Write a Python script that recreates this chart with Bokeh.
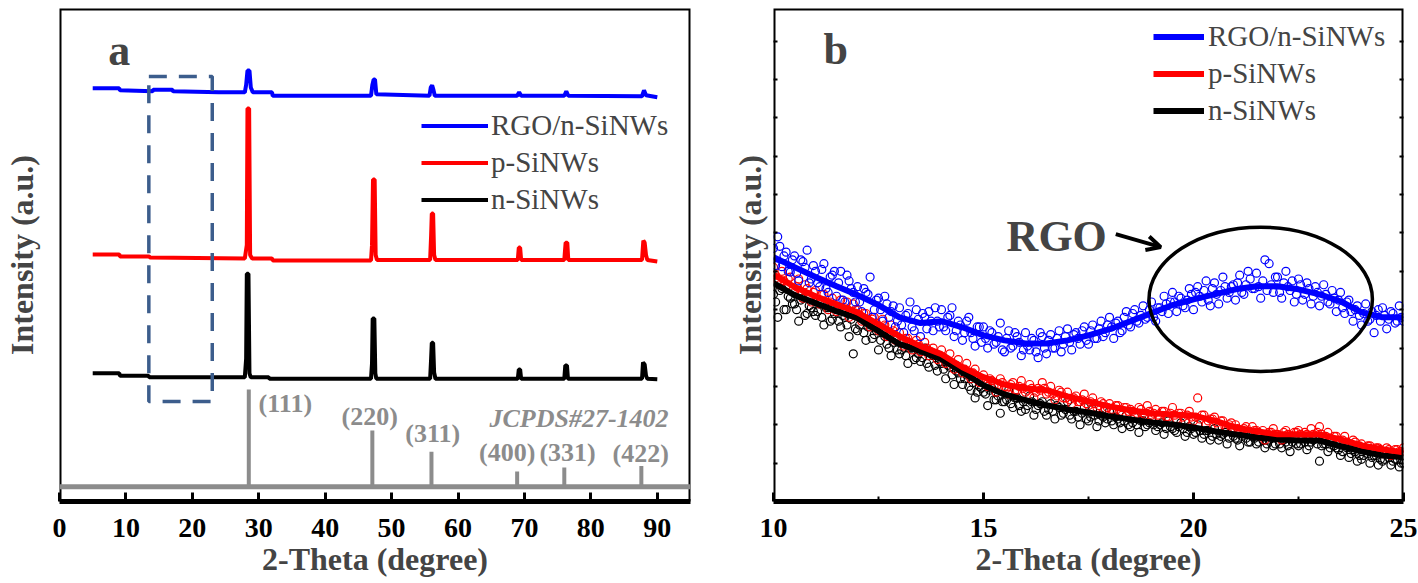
from bokeh.plotting import figure
from bokeh.layouts import row
from bokeh.models import (Range1d, FixedTicker, LinearAxis, Legend, LegendItem, Label,
                          Span, BoxAnnotation, Arrow, OpenHead, CustomLabelingPolicy)
from bokeh.embed import file_html
from bokeh.resources import INLINE

FONT = "Liberation Serif"
BLUE, RED, BLACK, GRAY, BOXC = "#0000FF", "#FF0000", "#000000", "#8C8C8C", "#3C5D8C"

# ---------------- panel a : XRD patterns (offset, a.u.) ----------------
a_blue_x = [5.0, 9.0, 9.1, 14.0, 14.1, 17.0, 17.1, 24.0, 27.9, 28.1, 28.3, 28.6, 28.8, 29.1, 32.0, 32.1,
            46.9, 47.1, 47.3, 47.5, 47.7, 55.7, 55.9, 56.1, 56.3, 56.5, 68.9, 69.2, 69.5, 76.0, 76.3, 76.6,
            87.7, 88.0, 88.3, 90.0]
a_blue_y = [838, 838, 834, 832, 835, 835, 832, 830, 830, 845, 874, 874, 840, 830, 830, 823,
            823, 845, 856, 856, 826, 823, 840, 844, 835, 823, 823, 830, 823, 823, 832, 823,
            822, 834, 824, 820]

a_red_x = [5.0, 9.0, 9.1, 13.5, 13.6, 27.9, 28.2, 28.3, 28.55, 28.7, 29.0, 32.0, 32.1,
           46.9, 47.05, 47.2, 47.45, 47.6, 47.8, 55.8, 55.95, 56.05, 56.25, 56.4, 56.6,
           69.0, 69.15, 69.35, 69.5, 76.0, 76.2, 76.45, 76.6, 87.7, 87.9, 88.1, 88.3, 88.5, 90.0]
a_red_y = [501, 501, 497, 497, 495, 493, 520, 797, 797, 500, 493, 493, 489,
           489, 520, 653, 653, 500, 490, 490, 540, 584, 584, 500, 490,
           490, 515, 515, 490, 490, 525, 525, 490, 490, 529, 525, 500, 490, 487]

a_black_x = [5.0, 9.0, 9.1, 13.4, 13.5, 27.9, 28.1, 28.2, 28.45, 28.6, 28.8, 31.5, 31.6,
             46.9, 47.05, 47.15, 47.4, 47.55, 47.7, 55.8, 55.95, 56.05, 56.25, 56.4, 56.6,
             69.0, 69.15, 69.35, 69.5, 76.0, 76.15, 76.4, 76.55, 87.7, 87.85, 88.1, 88.3, 88.5, 90.0]
a_black_y = [260, 260, 255, 255, 252, 252, 290, 462, 462, 260, 252, 252, 249,
             249, 280, 371, 371, 260, 249, 249, 290, 322, 322, 262, 249,
             249, 268, 268, 249, 249, 276, 276, 249, 249, 282, 278, 255, 249, 248]

# JCPDS#27-1402 reference pattern
ref_pos = [28.5, 47.1, 56.0, 68.9, 76.0, 87.6]
ref_int = [227, 144, 101, 61, 69, 72]
ref_base = [30, 30, 30, 30, 30, 30]
ref_labels = ["(111)", "(220)", "(311)", "(400)", "(331)", "(422)"]

# ---------------- panel b : low-angle region (scan points) ----------------
b_x = [round(10 + 0.1 * i, 1) for i in range(151)]
b_x2 = [round(10.05 + 0.1 * i, 2) for i in range(150)]
b_blue = [660, 690, 612, 650, 598, 640, 575, 625, 655, 580, 600, 560, 620, 545, 590,
          535, 600, 520, 575, 545, 560, 495, 545, 585, 500, 530, 470, 515, 495, 455,
          505, 440, 490, 455, 500, 430, 480, 495, 445, 470, 500, 445, 485, 430, 470,
          420, 470, 440, 405, 455, 455, 400, 440, 415, 465, 390, 445, 405, 430, 380,
          440, 395, 420, 375, 430, 385, 435, 400, 445, 410, 450, 395, 440, 410, 455,
          410, 460, 425, 470, 440, 480, 425, 470, 445, 495, 455, 500, 465, 510, 480,
          520, 470, 505, 535, 490, 545, 495, 530, 505, 555, 500, 560, 520, 575, 510,
          570, 515, 585, 530, 560, 525, 590, 540, 600, 555, 595, 530, 630, 620, 545,
          585, 530, 600, 550, 520, 580, 525, 570, 515, 560, 510, 565, 520, 550, 495,
          545, 490, 525, 470, 510, 460, 515, 475, 440, 500, 505, 450, 495, 465, 510, 470]
b_blue2 = [615, 665, 640, 600, 630, 595, 630, 610, 570, 615, 570, 605, 555, 585, 600,
           570, 525, 590, 555, 520, 520, 555, 540, 480, 525, 500, 535, 480, 510, 470,
           460, 485, 520, 445, 475, 490, 450, 470, 505, 455, 455, 480, 505, 445, 460,
           440, 480, 425, 455, 415, 425, 445, 410, 430, 395, 425, 400, 440, 415, 395,
           405, 425, 390, 440, 400, 420, 400, 425, 390, 430, 415, 435, 425, 445, 420,
           445, 425, 450, 430, 460, 455, 465, 440, 480, 460, 490, 470, 485, 475, 500,
           480, 505, 495, 515, 520, 520, 535, 510, 525, 540, 545, 535, 550, 525, 555,
           540, 550, 560, 545, 565, 570, 545, 565, 580, 555, 560, 575, 550, 565, 585,
           545, 570, 560, 575, 540, 565, 540, 555, 535, 545, 535, 540, 515, 530, 525,
           505, 520, 495, 500, 485, 490, 470, 495, 485, 470, 485, 475, 490, 470, 480]
b_red = [610, 575, 600, 560, 585, 545, 580, 530, 555, 520, 550, 515, 540, 500, 530,
         495, 525, 505, 480, 515, 500, 470, 490, 455, 480, 445, 475, 430, 460, 420,
         440, 405, 425, 395, 420, 390, 415, 380, 400, 370, 395, 360, 385, 345, 370,
         335, 360, 320, 345, 310, 330, 300, 315, 285, 320, 300, 280, 310, 290, 315,
         285, 305, 270, 295, 310, 280, 300, 265, 290, 270, 285, 255, 275, 260, 280,
         250, 270, 245, 260, 240, 255, 235, 250, 225, 245, 240, 220, 245, 230, 250,
         225, 240, 215, 235, 220, 245, 215, 230, 210, 235, 210, 270, 225, 200, 215,
         220, 195, 210, 185, 205, 200, 180, 190, 175, 195, 185, 170, 160, 180, 190,
         175, 160, 185, 165, 180, 185, 165, 175, 190, 170, 195, 165, 180, 160, 170,
         155, 170, 145, 160, 140, 150, 135, 145, 130, 140, 125, 140, 120, 135, 130, 140]
b_red2 = [590, 565, 575, 580, 550, 560, 540, 565, 535, 545, 525, 540, 510, 520, 505,
          505, 495, 520, 490, 500, 485, 490, 470, 475, 465, 455, 460, 440, 445, 425,
          420, 425, 410, 405, 410, 395, 400, 390, 385, 380, 375, 365, 360, 355, 345,
          345, 330, 335, 325, 320, 310, 320, 300, 305, 310, 295, 305, 290, 300, 295,
          290, 295, 285, 290, 295, 285, 280, 275, 285, 270, 265, 270, 260, 265, 255,
          260, 255, 250, 255, 245, 240, 250, 235, 245, 235, 235, 230, 240, 225, 235,
          230, 225, 235, 220, 230, 225, 230, 220, 225, 220, 220, 215, 225, 210, 215,
          205, 210, 195, 200, 190, 190, 185, 195, 180, 185, 180, 185, 175, 180, 175,
          170, 180, 175, 170, 180, 175, 180, 170, 175, 180, 175, 170, 165, 170, 160,
          160, 155, 150, 155, 145, 140, 145, 135, 140, 135, 130, 135, 125, 135, 130]
b_black = [540, 480, 555, 500, 530, 515, 470, 530, 490, 505, 485, 520, 460, 505, 475,
           500, 455, 480, 430, 385, 445, 480, 420, 460, 435, 395, 440, 410, 380, 425,
           385, 415, 360, 400, 375, 365, 400, 350, 380, 340, 360, 320, 350, 305, 335,
           305, 330, 290, 270, 300, 285, 250, 295, 265, 230, 260, 290, 245, 270, 235,
           240, 275, 225, 250, 260, 225, 255, 215, 245, 230, 260, 215, 235, 200, 245,
           210, 240, 195, 225, 205, 235, 200, 215, 190, 225, 195, 220, 180, 210, 200,
           215, 185, 200, 175, 210, 190, 180, 205, 170, 195, 175, 200, 165, 185, 160,
           190, 160, 175, 150, 180, 165, 145, 180, 155, 170, 150, 175, 140, 160, 145,
           170, 140, 155, 130, 165, 145, 165, 135, 155, 170, 105, 150, 130, 160, 140,
           120, 150, 115, 135, 105, 110, 135, 100, 120, 95, 105, 125, 95, 110, 90, 100]
b_black2 = [520, 550, 500, 535, 515, 500, 525, 485, 510, 495, 495, 480, 505, 470, 490,
            470, 485, 460, 475, 450, 460, 440, 455, 425, 445, 420, 430, 400, 415, 395,
            395, 380, 400, 370, 385, 375, 360, 385, 355, 365, 345, 355, 330, 340, 320,
            320, 300, 310, 285, 295, 280, 290, 265, 275, 260, 265, 255, 270, 250, 260,
            250, 260, 240, 255, 235, 240, 235, 250, 225, 240, 225, 235, 220, 230, 215,
            220, 225, 210, 220, 215, 210, 220, 205, 210, 200, 205, 200, 210, 195, 205,
            200, 195, 205, 190, 195, 185, 195, 190, 180, 190, 180, 185, 175, 185, 170,
            175, 170, 180, 165, 170, 160, 170, 165, 155, 165, 155, 160, 150, 165, 150,
            150, 160, 145, 155, 150, 150, 155, 145, 160, 150, 145, 150, 140, 145, 135,
            130, 140, 125, 130, 120, 120, 125, 115, 120, 110, 110, 115, 105, 110, 100]

# smoothed curves
b_line_x = [10.0, 10.5, 11.0, 11.5, 12.0, 12.5, 13.0, 13.5, 14.0, 14.5, 15.0, 15.5, 16.0, 16.5,
            17.0, 17.5, 18.0, 18.5, 19.0, 19.5, 20.0, 20.5, 21.0, 21.5, 22.0, 22.5, 23.0, 23.5,
            24.0, 24.5, 25.0]
b_line_blue = [637, 611, 585, 561, 538, 512, 480, 465, 470, 454, 433, 420, 412, 412, 420, 433,
               449, 470, 491, 512, 527, 540, 553, 561, 561, 553, 540, 522, 493, 480, 480]
b_line_red = [592, 559, 535, 514, 493, 462, 431, 405, 384, 350, 324, 305, 295, 290, 274, 261,
              248, 238, 230, 227, 224, 211, 193, 183, 175, 175, 175, 162, 146, 136, 128]
b_line_black = [569, 538, 517, 496, 478, 444, 410, 392, 371, 337, 303, 279, 264, 251, 240, 232,
                222, 214, 206, 201, 193, 183, 175, 167, 162, 159, 159, 144, 131, 120, 115]

series_names = ["RGO/n-SiNWs", "p-SiNWs", "n-SiNWs"]

NO_LABELS = "for (const i of indices) { indices.unset(i) }\nreturn indices"


def base_fig(frame_w, xr, yr, left, right):
    p = figure(frame_width=frame_w, frame_height=493, x_range=xr, y_range=yr,
               output_backend="svg", toolbar_location=None,
               min_border_left=left, min_border_right=right, min_border_top=8, min_border_bottom=80)
    p.xgrid.visible = False
    p.ygrid.visible = False
    p.outline_line_color = None
    p.background_fill_color = "white"
    p.border_fill_color = "white"
    p.add_layout(BoxAnnotation(fill_alpha=0, line_color="black", line_alpha=1, line_width=4))
    xa = p.xaxis[0]
    xa.axis_line_width = 5
    xa.major_tick_in = 9
    xa.major_tick_out = 0
    xa.major_tick_line_width = 3
    xa.minor_tick_in = 5
    xa.minor_tick_out = 0
    xa.minor_tick_line_width = 2
    xa.major_label_text_font = FONT
    xa.major_label_text_font_style = "bold"
    xa.major_label_text_font_size = "28px"
    xa.major_label_text_color = "black"
    xa.major_label_standoff = 17
    xa.axis_label = "2-Theta (degree)"
    xa.axis_label_text_font = FONT
    xa.axis_label_text_font_style = "bold"
    xa.axis_label_text_font_size = "32px"
    xa.axis_label_standoff = 1
    ya = p.yaxis[0]
    ya.axis_line_color = None
    ya.axis_label = "Intensity (a.u.)"
    ya.axis_label_text_font = FONT
    ya.axis_label_text_font_style = "bold"
    ya.axis_label_text_font_size = "32px"
    ya.major_label_text_font_size = "0px"
    ya.major_label_standoff = 0
    ya.major_label_policy = CustomLabelingPolicy(code=NO_LABELS)
    return p


# ---------- panel a ----------
pa = base_fig(631, Range1d(0, 95), Range1d(0, 1000), 58, 31)
pa.xaxis[0].ticker = FixedTicker(ticks=[0, 10, 20, 30, 40, 50, 60, 70, 80, 90], minor_ticks=[])
pa.yaxis[0].ticker = FixedTicker(ticks=[])
pa.yaxis[0].major_tick_line_color = None
pa.yaxis[0].minor_tick_line_color = None
pa.yaxis[0].axis_label_standoff = 20

pa.add_layout(Span(location=ref_base[0], dimension="width", line_color=GRAY, line_width=5))
pa.segment(x0=ref_pos, y0=ref_base, x1=ref_pos, y1=ref_int, line_color=GRAY, line_width=4)

lab_x = [34.0, 46.7, 56.2, 67.4, 76.5, 87.5]
lab_y = [199, 172, 138, 100, 100, 97]
for t, lx, ly in zip(ref_labels, lab_x, lab_y):
    pa.add_layout(Label(x=lx, y=ly, text=t, text_align="center", text_baseline="middle",
                        text_font=FONT, text_font_style="bold", text_font_size="26px",
                        text_color=GRAY))
pa.add_layout(Label(x=91.7, y=168, text="JCPDS#27-1402", text_align="right", text_baseline="middle",
                    text_font=FONT, text_font_style="bold italic", text_font_size="26px",
                    text_color=GRAY))

pa.add_layout(BoxAnnotation(left=13.45, right=23.0, bottom=203, top=862, fill_alpha=0,
                            line_color=BOXC, line_alpha=1, line_width=3.5, line_dash="18 12"))

ra_black = pa.line(a_black_x, a_black_y, line_color=BLACK, line_width=4)
ra_red = pa.line(a_red_x, a_red_y, line_color=RED, line_width=4)
ra_blue = pa.line(a_blue_x, a_blue_y, line_color=BLUE, line_width=4)

pa.add_layout(Label(x=9.0, y=915, text="a", text_align="center", text_baseline="middle",
                    text_font=FONT, text_font_style="bold", text_font_size="44px"))

leg_a = Legend(items=[LegendItem(label=series_names[0], renderers=[ra_blue]),
                      LegendItem(label=series_names[1], renderers=[ra_red]),
                      LegendItem(label=series_names[2], renderers=[ra_black])],
               location=(362, 283), orientation="vertical", glyph_width=67, glyph_height=37,
               label_height=37, label_standoff=3, spacing=0, padding=0, margin=0,
               border_line_alpha=0, background_fill_alpha=0,
               label_text_font=FONT, label_text_font_size="29px", label_text_baseline="middle")
pa.add_layout(leg_a)

# ---------- panel b ----------
pb = base_fig(630, Range1d(10, 25), Range1d(0, 1285), 52, 14)
pb.xaxis[0].ticker = FixedTicker(ticks=[10, 15, 20, 25], minor_ticks=[12.5, 17.5, 22.5])
yt = FixedTicker(ticks=[100, 200, 300, 400, 500, 600, 700, 800, 900, 1000, 1100, 1200], minor_ticks=[])
ya = pb.yaxis[0]
ya.ticker = yt
ya.major_tick_in = 4
ya.major_tick_out = 0
ya.major_tick_line_width = 2
ya.axis_label_standoff = 6
pb.add_layout(LinearAxis(ticker=yt, major_tick_in=4, major_tick_out=0, major_tick_line_width=2,
                         axis_line_color=None, major_label_text_font_size="0px",
                         major_label_standoff=0,
                         major_label_policy=CustomLabelingPolicy(code=NO_LABELS)), "right")

for xs, ys, c in [(b_x, b_black, BLACK), (b_x2, b_black2, BLACK),
                  (b_x, b_red, RED), (b_x2, b_red2, RED),
                  (b_x, b_blue, BLUE), (b_x2, b_blue2, BLUE)]:
    pb.scatter(xs, ys, marker="circle", size=8, fill_color=None, line_color=c, line_width=1.2)
rb_black = pb.line(b_line_x, b_line_black, line_color=BLACK, line_width=6)
rb_red = pb.line(b_line_x, b_line_red, line_color=RED, line_width=6)
rb_blue = pb.line(b_line_x, b_line_blue, line_color=BLUE, line_width=6)

pb.ellipse(x=[21.6], y=[527], width=[5.32], height=[376], fill_color=None,
           line_color="black", line_width=3.5)
pb.add_layout(Label(x=15.55, y=691, text="RGO", text_align="left", text_baseline="middle",
                    text_font=FONT, text_font_style="bold", text_font_size="44px"))
pb.add_layout(Arrow(end=OpenHead(size=14, line_width=4, line_color="black"),
                    x_start=18.15, y_start=697, x_end=19.22, y_end=663,
                    line_width=4, line_color="black"))
pb.add_layout(Label(x=11.48, y=1178, text="b", text_align="center", text_baseline="middle",
                    text_font=FONT, text_font_style="bold", text_font_size="44px"))

leg_b = Legend(items=[LegendItem(label=series_names[0], renderers=[rb_blue]),
                      LegendItem(label=series_names[1], renderers=[rb_red]),
                      LegendItem(label=series_names[2], renderers=[rb_black])],
               location=(380, 372), orientation="vertical", glyph_width=51, glyph_height=37,
               label_height=37, label_standoff=4, spacing=0, padding=0, margin=0,
               border_line_alpha=0, background_fill_alpha=0,
               label_text_font=FONT, label_text_font_size="29px", label_text_baseline="middle")
pb.add_layout(leg_b)

layout = row(pa, pb)
open("out.html", "w").write(file_html(layout, INLINE))
